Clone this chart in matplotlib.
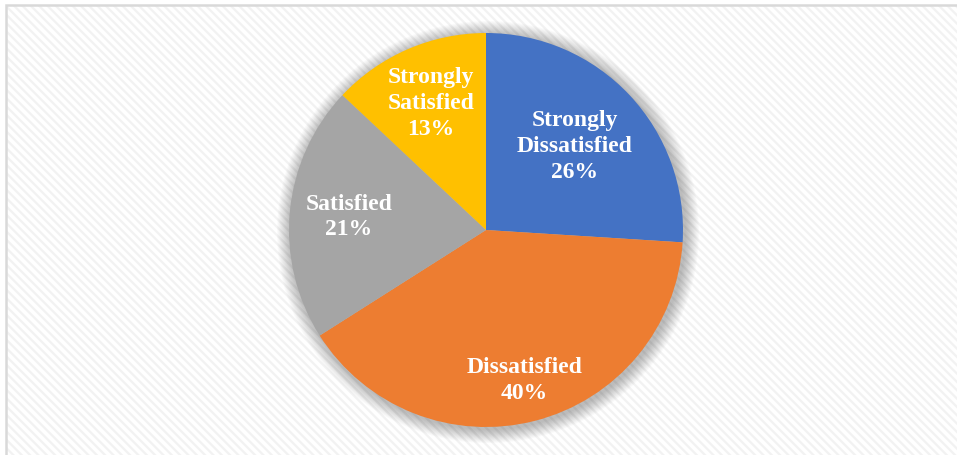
import numpy as np
import matplotlib.pyplot as plt
from matplotlib.patches import Rectangle, Circle

categories = ['Strongly\nDissatisfied', 'Dissatisfied', 'Satisfied', 'Strongly\nSatisfied']
shares = [26, 40, 21, 13]
colors = ['#4472C4', '#ED7D31', '#A5A5A5', '#FFC000']
# how far out each label sits, as a fraction of the radius
label_dist = [0.62, 0.79, 0.70, 0.70]

plt.rcParams['hatch.linewidth'] = 1.6

fig = plt.figure(figsize=(9.57, 4.55), dpi=100)
ax = fig.add_axes([0, 0, 1, 1])

# striped chart-area background with a thin grey border
ax.add_patch(Rectangle((6, -5), 960, 455, facecolor='white', edgecolor='#f2f2f2',
                       hatch='\\\\\\\\', linewidth=0, zorder=0))
ax.add_patch(Rectangle((6, -5), 960, 455, facecolor='none', edgecolor='#d9d9d9',
                       linewidth=1.8, zorder=1))

cx, cy, r = 486, 225, 197

# soft shadow around the pie
for k in range(14):
    ax.add_patch(Circle((cx + 2, cy - 2), r + 14 - k, facecolor='#000000',
                        edgecolor='none', alpha=0.018, zorder=2))

wedges, _ = ax.pie(shares, colors=colors, startangle=90, counterclock=False,
                   center=(cx, cy), radius=r,
                   wedgeprops=dict(linewidth=0, zorder=3))

for w, name, pct, d in zip(wedges, categories, shares, label_dist):
    mid = np.deg2rad((w.theta1 + w.theta2) / 2)
    x = cx + d * r * np.cos(mid)
    y = cy + d * r * np.sin(mid)
    ax.text(x, y, f'{name}\n{pct}%', ha='center', va='center', color='white',
            fontsize=17, fontweight='bold', family='Liberation Serif',
            linespacing=1.3, zorder=5)

ax.set_xlim(0, 957)
ax.set_ylim(0, 455)
ax.set_aspect('equal')
ax.axis('off')

fig.savefig('out.png', dpi=100)
